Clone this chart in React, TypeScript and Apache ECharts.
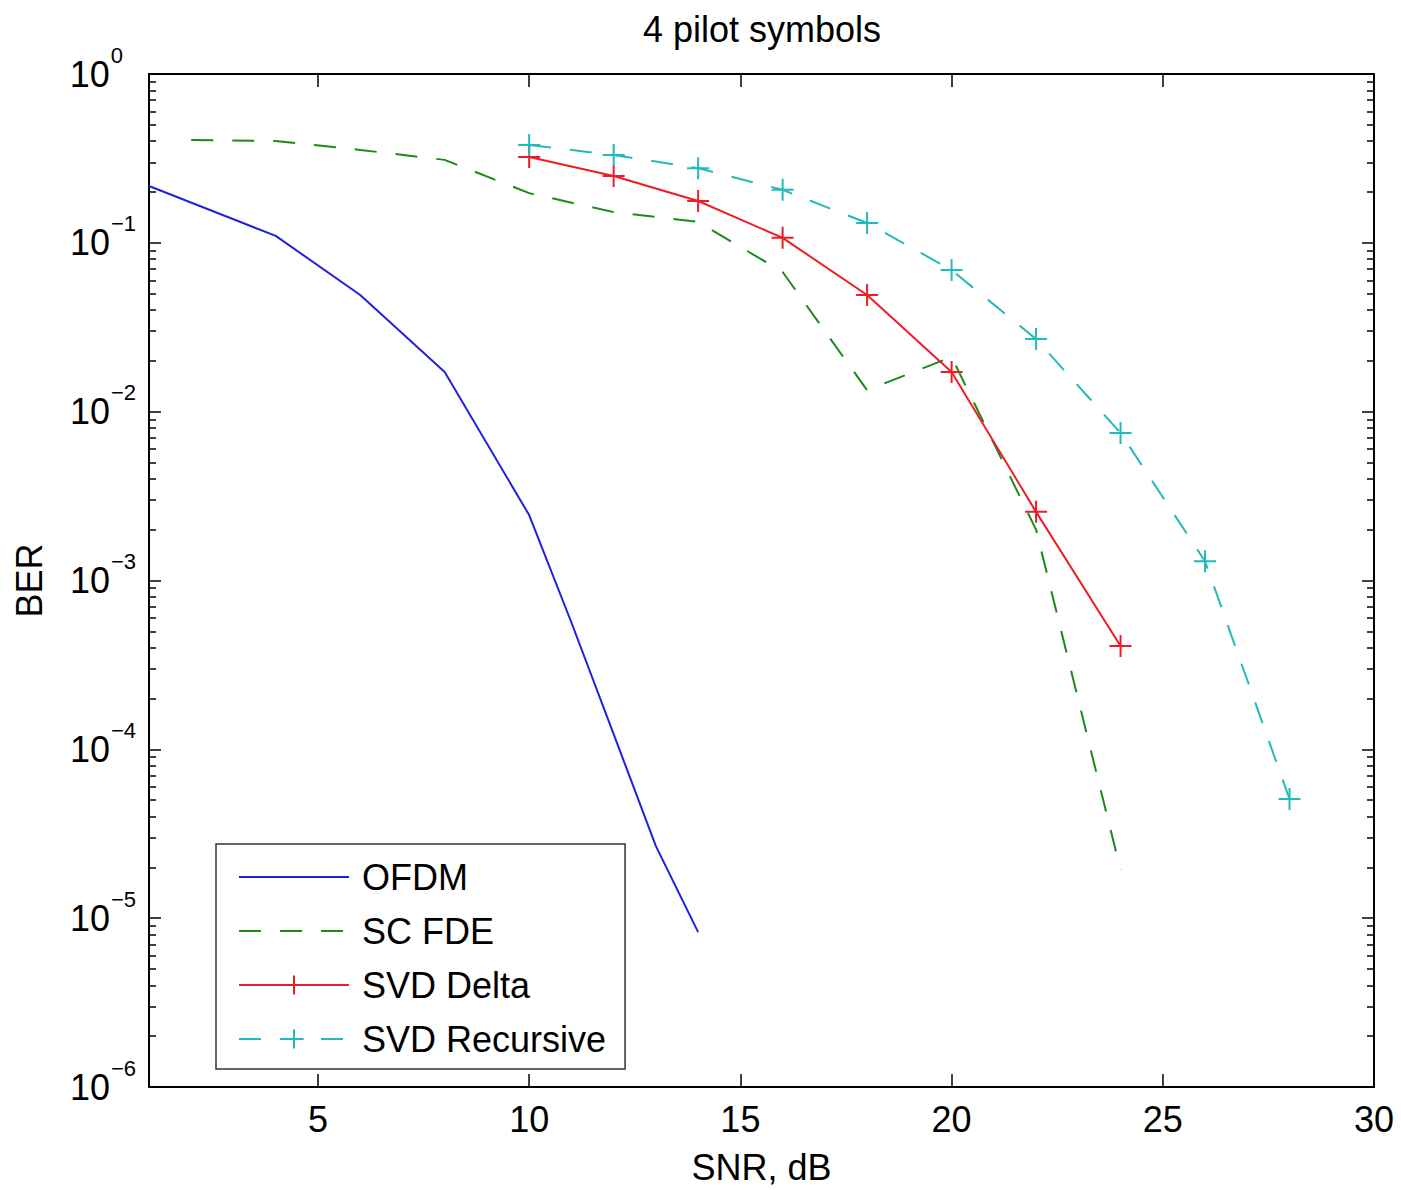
import { useEffect, useRef } from 'react';
import * as echarts from 'echarts';

// SNR (dB) values per series
const snrOfdm = [1, 4, 6, 8, 10, 11, 12, 13, 14];
const snrScFde = [2, 4, 6, 8, 10, 12, 14, 16, 18, 20, 22, 24];
const snrSvdDelta = [10, 12, 14, 16, 18, 20, 22, 24];
const snrSvdRec = [10, 12, 14, 16, 18, 20, 22, 24, 26, 28];

// BER values per series
const berOfdm = [0.217, 0.11, 0.0491, 0.0172, 0.00244, 5.64e-4, 1.23e-4, 2.67e-5, 8.26e-6];
const berScFde = [0.406, 0.401, 0.355, 0.31, 0.197, 0.152, 0.133, 0.0672, 0.0134, 0.0211, 0.002, 1.93e-5];
const berSvdDelta = [0.322, 0.249, 0.177, 0.107, 0.0491, 0.0172, 0.00255, 4.09e-4];
const berSvdRec = [0.38, 0.331, 0.277, 0.206, 0.131, 0.069, 0.0269, 0.00748, 0.0013, 5.08e-5];

const seriesNames = ['OFDM', 'SC FDE', 'SVD Delta', 'SVD Recursive'];
const xTicks = [5, 10, 15, 20, 25, 30];

const FONT = "'Liberation Sans', Arial, Helvetica, sans-serif";
const PLUS = 'path://M0,10L20,10M10,0L10,20';

const zip = (xs: number[], ys: number[]) => xs.map((x, i) => [x, ys[i]]);

function yLabel(v: number) {
  const e = Math.round(Math.log10(v));
  if (e === 0) return '{b|10}{s0|0}';
  return `{b|10}{s|\u2212${-e}}`;
}

export default function App() {
  const ref = useRef<HTMLDivElement>(null);
  useEffect(() => {
    document.body.style.margin = '0';
    const chart = echarts.init(ref.current!, null, { renderer: 'svg' });
    const axisLineStyle = { color: '#000', width: 2 };
    const baseX = {
      type: 'value' as const,
      min: 1,
      max: 30,
      splitLine: { show: false },
      axisLine: { show: true, onZero: false, lineStyle: axisLineStyle },
      axisTick: { show: true, inside: true, length: 13, customValues: xTicks, lineStyle: { color: '#000', width: 1.5 } },
    };
    const baseY = {
      type: 'log' as const,
      logBase: 10,
      min: 1e-6,
      max: 1,
      splitNumber: 6,
      splitLine: { show: false },
      axisLine: { show: true, onZero: false, lineStyle: axisLineStyle },
      axisTick: { show: true, inside: true, length: 12, lineStyle: { color: '#000', width: 1.5 } },
      minorTick: { show: true, splitNumber: 9, length: 7, lineStyle: { color: '#000', width: 1.5 } },
    };
    chart.setOption({
      animation: false,
      backgroundColor: '#fff',
      title: {
        text: '4 pilot symbols',
        left: 638,
        top: 6,
        textStyle: { fontSize: 36, fontWeight: 'normal', color: '#000', fontFamily: FONT },
      },
      grid: { left: 149, right: 27, top: 74, bottom: 103, containLabel: false },
      legend: {
        orient: 'vertical',
        left: 216,
        top: 844,
        padding: [13, 19, 10, 22],
        itemWidth: 110,
        itemHeight: 24,
        itemGap: 14,
        backgroundColor: '#fff',
        borderColor: '#333',
        borderWidth: 1.5,
        textStyle: { fontSize: 36, lineHeight: 40, color: '#000', fontFamily: FONT, padding: [0, 0, 0, 8] },
        data: [
          { name: seriesNames[0], itemStyle: { opacity: 0 } },
          { name: seriesNames[1], itemStyle: { opacity: 0 } },
          { name: seriesNames[2] },
          { name: seriesNames[3] },
        ],
      },
      xAxis: [
        {
          ...baseX,
          position: 'bottom',
          name: 'SNR, dB',
          nameLocation: 'middle',
          nameGap: 62,
          nameTextStyle: { fontSize: 36, color: '#000', fontFamily: FONT },
          axisLabel: { customValues: xTicks, fontSize: 36, color: '#000', margin: 14, fontFamily: FONT },
        },
        { ...baseX, position: 'top', axisLabel: { show: false } },
      ],
      yAxis: [
        {
          ...baseY,
          position: 'left',
          name: 'BER',
          nameLocation: 'middle',
          nameGap: 102,
          nameTextStyle: { fontSize: 36, color: '#000', fontFamily: FONT },
          axisLabel: {
            margin: 13,
            formatter: yLabel,
            rich: {
              b: { fontSize: 36, color: '#000', fontFamily: FONT },
              s: { fontSize: 22, color: '#000', fontFamily: FONT, padding: [0, 0, 38, 1] },
              s0: { fontSize: 22, color: '#000', fontFamily: FONT, padding: [0, 13, 38, 1] },
            },
          },
        },
        { ...baseY, position: 'right', axisLabel: { show: false } },
      ],
      series: [
        {
          name: seriesNames[0],
          type: 'line',
          data: zip(snrOfdm, berOfdm),
          symbol: 'none',
          lineStyle: { color: '#2020dd', width: 2 },
          itemStyle: { color: '#2020dd' },
        },
        {
          name: seriesNames[1],
          type: 'line',
          data: zip(snrScFde, berScFde),
          symbol: 'none',
          lineStyle: { color: '#1a8a1a', width: 2, type: [22, 19] },
          itemStyle: { color: '#1a8a1a' },
        },
        {
          name: seriesNames[2],
          type: 'line',
          data: zip(snrSvdDelta, berSvdDelta),
          symbol: PLUS,
          symbolSize: 22,
          lineStyle: { color: '#ee1c24', width: 2 },
          itemStyle: { color: '#ee1c24', borderColor: '#ee1c24', borderWidth: 2 },
        },
        {
          name: seriesNames[3],
          type: 'line',
          data: zip(snrSvdRec, berSvdRec),
          symbol: PLUS,
          symbolSize: 22,
          lineStyle: { color: '#22bbbb', width: 2, type: [22, 19] },
          itemStyle: { color: '#22bbbb', borderColor: '#22bbbb', borderWidth: 2 },
        },
      ],
    });
    return () => chart.dispose();
  }, []);
  return <div ref={ref} style={{ width: 1401, height: 1190 }} />;
}
